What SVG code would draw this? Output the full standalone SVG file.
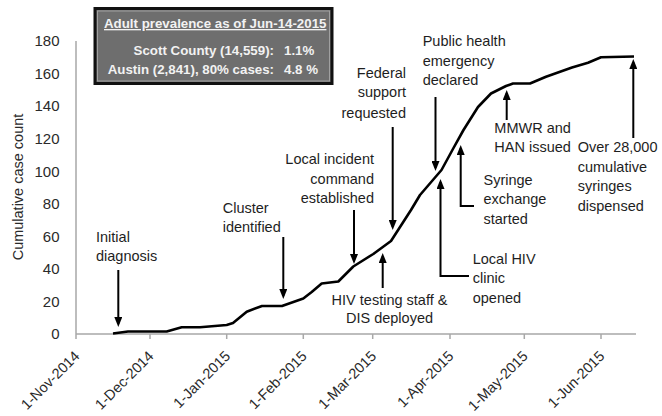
<svg xmlns="http://www.w3.org/2000/svg" width="662" height="416" viewBox="0 0 662 416">
<style>
.ann{font-family:"Liberation Sans",Arial,sans-serif;font-size:14.5px;fill:#1e1e1e}
.tick{font-family:"Liberation Sans",Arial,sans-serif;font-size:15px;fill:#2a2a2a}
.xl{font-family:"Liberation Sans",Arial,sans-serif;font-size:14.5px;fill:#2a2a2a}
.box{font-family:"Liberation Sans",Arial,sans-serif;font-weight:bold;fill:#f2f2f2;font-size:13.3px}
.axis{stroke:#a8a8a8;stroke-width:1.5;fill:none}
.conn{stroke:#000;stroke-width:2;fill:none;stroke-linejoin:miter}
</style>
<defs>
<marker id="ah" viewBox="0 0 10 8" refX="7" refY="4" markerWidth="10" markerHeight="8" markerUnits="userSpaceOnUse" orient="auto">
<path d="M0,0 L10,4 L0,8 z" fill="#000"/>
</marker>
</defs>
<rect width="662" height="416" fill="#fff"/>

<g id="axes">
<path class="axis" d="M76,41 V339 M76,334 H636 M150,334 V339 M226.7,334 V339 M303.3,334 V339 M372.7,334 V339 M450,334 V339 M524.3,334 V339 M601,334 V339"/>
<g class="tick" text-anchor="end">
<text x="59.5" y="339.3">0</text>
<text x="59.5" y="306.7">20</text>
<text x="59.5" y="274.2">40</text>
<text x="59.5" y="241.6">60</text>
<text x="59.5" y="209.1">80</text>
<text x="59.5" y="176.5">100</text>
<text x="59.5" y="143.9">120</text>
<text x="59.5" y="111.4">140</text>
<text x="59.5" y="78.8">160</text>
<text x="59.5" y="46.3">180</text>
</g>
<text class="xl" x="22.5" y="187" text-anchor="middle" transform="rotate(-90 22.5 187)">Cumulative case count</text>
<g class="xl" text-anchor="end">
<text x="80.5" y="357" transform="rotate(-45 80.5 357)">1-Nov-2014</text>
<text x="154.5" y="357" transform="rotate(-45 154.5 357)">1-Dec-2014</text>
<text x="231.2" y="357" transform="rotate(-45 231.2 357)">1-Jan-2015</text>
<text x="307.8" y="357" transform="rotate(-45 307.8 357)">1-Feb-2015</text>
<text x="377.2" y="357" transform="rotate(-45 377.2 357)">1-Mar-2015</text>
<text x="454.5" y="357" transform="rotate(-45 454.5 357)">1-Apr-2015</text>
<text x="528.8" y="357" transform="rotate(-45 528.8 357)">1-May-2015</text>
<text x="605.5" y="357" transform="rotate(-45 605.5 357)">1-Jun-2015</text>
</g>
</g>

<g id="curve">
<polyline fill="none" stroke="#000" stroke-width="2.6" stroke-linejoin="round" points="113,333.5 128,331.5 166.7,331.5 181.7,327.3 200,327.3 226.7,325 233,323 246.7,311.7 262,306 282,306 303.3,298.5 311.7,292 321.7,283.5 338.3,281.5 353.3,266.5 373.3,254 391,241 401,225.5 411,210 420,195 441.5,170 453.5,148 463.5,130 478,107 491,93.5 506,86 513,83.5 530,83.5 546,76.7 572,67.5 588,62.7 601,57.3 634,56.5"/>
</g>

<g id="prevalence-box">
<rect x="95" y="8.5" width="237" height="75" fill="#6e6e6e" stroke="#111" stroke-width="3"/>
<rect x="97.5" y="11" width="232" height="70" fill="none" stroke="#a0a0a0" stroke-width="1"/>
<text class="box" x="104" y="28" text-decoration="underline">Adult prevalence as of Jun-14-2015</text>
<text class="box" y="55"><tspan x="274" text-anchor="end">Scott County (14,559):</tspan><tspan x="284">1.1%</tspan></text>
<text class="box" y="73.5"><tspan x="274" text-anchor="end">Austin (2,841), 80% cases:</tspan><tspan x="284">4.8 %</tspan></text>
</g>

<g id="initial-diagnosis" class="ann">
<text x="96" y="241.5">Initial</text>
<text x="96" y="260.5">diagnosis</text>
</g>
<g id="cluster-identified" class="ann">
<text x="222.7" y="213.3">Cluster</text>
<text x="222.7" y="232.3">identified</text>
</g>
<g id="local-incident-command" class="ann" text-anchor="end">
<text x="374" y="164">Local incident</text>
<text x="374" y="183.5">command</text>
<text x="374" y="203">established</text>
</g>
<g id="federal-support" class="ann" text-anchor="end">
<text x="406" y="78.3">Federal</text>
<text x="406" y="97">support</text>
<text x="406" y="117.5">requested</text>
</g>
<g id="public-health-emergency" class="ann">
<text x="422.7" y="45.5">Public health</text>
<text x="422.7" y="65.5">emergency</text>
<text x="422.7" y="85">declared</text>
</g>
<g id="hiv-testing-staff" class="ann" text-anchor="middle">
<text x="389.5" y="304.7">HIV testing staff &amp;</text>
<text x="389.5" y="323">DIS deployed</text>
</g>
<g id="syringe-exchange" class="ann">
<text x="483.5" y="184.5">Syringe</text>
<text x="483.5" y="204">exchange</text>
<text x="483.5" y="223.5">started</text>
</g>
<g id="local-hiv-clinic" class="ann">
<text x="472.7" y="264">Local HIV</text>
<text x="472.7" y="283">clinic</text>
<text x="472.7" y="302.5">opened</text>
</g>
<g id="mmwr-han" class="ann">
<text x="494.3" y="132.5">MMWR and</text>
<text x="494.3" y="152">HAN issued</text>
</g>
<g id="syringes-dispensed" class="ann">
<text x="577.7" y="152">Over 28,000</text>
<text x="577.7" y="171.5">cumulative</text>
<text x="577.7" y="191">syringes</text>
<text x="577.7" y="210.5">dispensed</text>
</g>

<g id="connectors" class="conn" marker-end="url(#ah)">
<path d="M118.3,270 V324"/>
<path d="M283.3,237 V296"/>
<path d="M354,210 V261"/>
<path d="M392.7,127 V227"/>
<path d="M435.5,97 V168"/>
<path d="M382.7,288 V256"/>
<path d="M474,206 H460.7 V148"/>
<path d="M469,276 H440.5 V182"/>
<path d="M506.7,120 V93"/>
<path d="M633.3,138 V62"/>
</g>
</svg>
